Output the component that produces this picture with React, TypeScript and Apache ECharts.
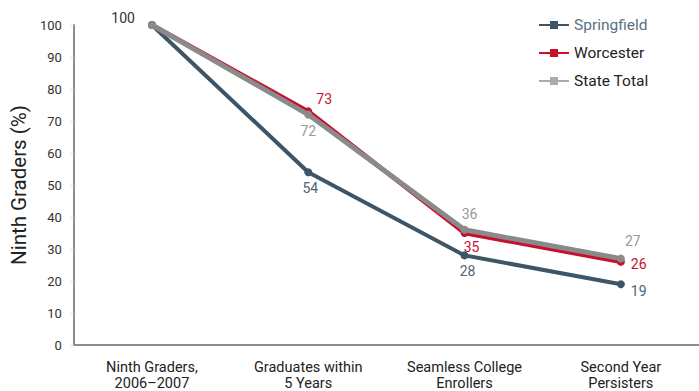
import React, { useEffect, useRef } from "react";
import * as echarts from "echarts";

const categories = ["Ninth Graders,\n2006–2007", "Graduates within\n5 Years", "Seamless College\nEnrollers", "Second Year\nPersisters"];
const springfield = [100, 54, 28, 19];
const worcester = [100, 73, 35, 26];
const stateTotal = [100, 72, 36, 27];
const yTicks = { min: 0, max: 100, interval: 10 };
const seriesNames = ["Springfield", "Worcester", "State Total"];

const FONT = "Roboto";

type LabelCfg = { show: boolean; position?: string; offset?: number[]; color?: string; distance?: number };

const sprLabels: LabelCfg[] = [
  { show: false },
  { show: true, position: "bottom", distance: 5, offset: [2, 0] },
  { show: true, position: "bottom", distance: 5, offset: [3, 0] },
  { show: true, position: "right", distance: 6, offset: [0, 7] },
];
const worLabels: LabelCfg[] = [
  { show: false },
  { show: true, position: "right", distance: 4, offset: [0, -12] },
  { show: true, position: "bottom", distance: 3, offset: [7, 0] },
  { show: true, position: "right", distance: 6, offset: [0, 2] },
];
const staLabels: LabelCfg[] = [
  { show: true, position: "left", distance: 13, offset: [0, -7], color: "#333" },
  { show: true, position: "bottom", distance: 5, offset: [0, 0] },
  { show: true, position: "top", distance: 5, offset: [5, 0] },
  { show: true, position: "top", distance: 7, offset: [12, 0] },
];

function build(values: number[], labels: LabelCfg[], color: string) {
  return values.map((v, i) => ({
    value: v,
    label: {
      show: labels[i].show,
      position: labels[i].position,
      distance: labels[i].distance,
      offset: labels[i].offset,
      color: labels[i].color || color,
    },
  }));
}

export default function App() {
  const ref = useRef<HTMLDivElement>(null);
  useEffect(() => {
    if (!ref.current) return;
    const chart = echarts.init(ref.current, undefined, { renderer: "svg" });
    const colSpr = "#3e5565";
    const colWor = "#c8102e";
    const colSta = "#8a8a8a";
    const legendColors = [colSpr, colWor, "#aaaaaa"];
    const legendSeries = seriesNames.map((n, i) => ({
      name: n,
      type: "line",
      data: [],
      symbol: "rect",
      color: legendColors[i],
      lineStyle: { width: 3, color: legendColors[i] },
      itemStyle: { color: legendColors[i] },
    }));
    const labelBase = { fontFamily: FONT, fontSize: 14 };
    chart.setOption({
      animation: false,
      textStyle: { fontFamily: FONT },
      grid: { left: 61, top: 25, bottom: 45.5, right: -9, containLabel: false },
      legend: {
        orient: "vertical",
        left: 538,
        top: 17,
        padding: 0,
        itemWidth: 30,
        itemHeight: 10,
        itemGap: 12,
        textStyle: { fontFamily: FONT, fontSize: 15.5, color: "#222" },
        data: seriesNames.map((n, i) => ({
          name: n,
          textStyle: i === 0 ? { color: "#5a7282" } : { color: "#222" },
        })),
      },
      xAxis: {
        type: "category",
        data: categories,
        boundaryGap: true,
        axisLine: { lineStyle: { color: "#8c8c8c", width: 2 } },
        axisTick: { show: false },
        axisLabel: { fontFamily: FONT, fontSize: 14.5, color: "#222", margin: 14, lineHeight: 16, interval: 0 },
      },
      yAxis: {
        type: "value",
        min: yTicks.min,
        max: yTicks.max,
        interval: yTicks.interval,
        name: "Ninth Graders (%)",
        nameLocation: "middle",
        nameGap: 29,
        nameTextStyle: { fontFamily: FONT, fontSize: 20.5, color: "#222" },
        splitLine: { show: false },
        axisLine: { show: true, lineStyle: { color: "#8c8c8c", width: 2 } },
        axisTick: { show: true, length: 3, lineStyle: { color: "#dddddd" } },
        axisLabel: { fontFamily: FONT, fontSize: 13, color: "#333", margin: 12 },
      },
      series: [
        ...legendSeries,
        {
          name: seriesNames[0],
          type: "line",
          data: build(springfield, sprLabels, "#4f6575"),
          symbol: "circle",
          symbolSize: 8,
          color: colSpr,
          lineStyle: { width: 4, color: colSpr },
          itemStyle: { color: colSpr },
          label: labelBase,
          z: 2,
        },
        {
          name: seriesNames[1],
          type: "line",
          data: build(worcester, worLabels, colWor),
          symbol: "circle",
          symbolSize: 8,
          color: colWor,
          lineStyle: { width: 4.5, color: colWor },
          itemStyle: { color: colWor },
          label: labelBase,
          z: 3,
        },
        {
          name: seriesNames[2],
          type: "line",
          data: build(stateTotal, staLabels, "#999999"),
          symbol: "circle",
          symbolSize: 8,
          color: colSta,
          lineStyle: { width: 5, color: colSta },
          itemStyle: { color: colSta },
          label: labelBase,
          z: 4,
        },
      ],
    });
    return () => chart.dispose();
  }, []);
  return <div ref={ref} style={{ width: 699, height: 391, position: "absolute", left: 0, top: 0 }} />;
}
